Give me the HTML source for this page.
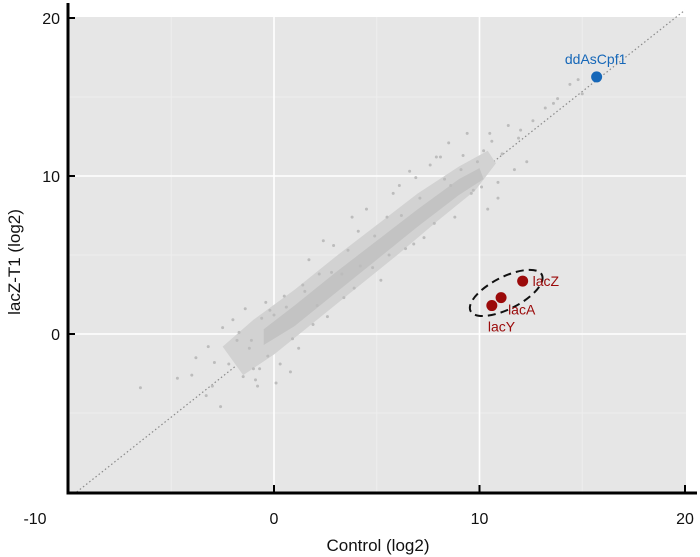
<!DOCTYPE html>
<html><head><meta charset="utf-8"><style>
html,body{margin:0;padding:0;background:#fff;}
svg{display:block;font-family:"Liberation Sans",Arial,sans-serif;}
</style></head><body>
<svg id="chart" width="700" height="557" viewBox="0 0 700 557">
<g id="panel"></g>
<g id="cloud"></g>
<g id="points"></g>
<g id="highlight"></g>
<g id="axes"></g>
</svg>
<script>
const xTicks=[-10,0,10,20];
const yTicks=[-10,0,10,20];
const xTickLabels=["-10","0","10","20"];
const yTickLabels=["0","10","20"];
const bandOuter=[[-2.5,-0.8],[-1,0.9],[1,2.8],[3,4.9],[5,6.9],[7,8.9],[9,10.6],[10.4,11.6],[10.8,10.8],[9.8,9.1],[8,7.2],[6,5.0],[4,2.9],[2,0.8],[0,-1.3],[-1.5,-2.6]];
const bandInner=[[-0.5,0.3],[1,1.8],[3,3.9],[5,5.9],[7,7.9],[9,9.8],[10,10.5],[10.2,9.8],[9,8.8],[7,6.8],[5,4.7],[3,2.6],[1,0.5],[-0.5,-0.7]];
const scatterX=[-6.5,-4.7,-4,-3.3,-3,-2.6,-1.5,-0.9,-0.8,-0.7,0.8,-3.8,-3.2,-2.2,-1.8,-1.2,-0.3,0.3,1.2,-2.5,-2,-1.4,0,0.5,1.5,2.2,-1,-0.4,0.9,2.6,3.4,1.7,2.9,4.1,4.8,5.5,3.3,4.5,6.1,6.9,2.4,3.8,5.2,6.4,7.3,8.1,8.6,9.2,9.6,10.2,10.6,11.1,11.4,12,12.6,13.2,13.8,14.4,15,10.9,11.7,12.3,10.4,9.9,10.9,7.9,6.6,8.5,4.2,5.8,7.6,9.4,11.9,13.6,14.8,10.5,8.8,1.9,0.1,-0.6,-1.7,-0.2,1.4,2.8,3.6,4.9,6.2,7.1,8.3,9.1,-2.9,-1.1,0.6,2.1,3.9,5.6,6.8,7.8,9.7,10.1];
const scatterY=[-3.4,-2.8,-2.6,-3.9,-3.3,-4.6,-2.7,-2.9,-3.3,-2.2,-2.4,-1.5,-0.8,-1.9,-0.4,-0.9,-1.4,-1.9,-0.9,0.4,0.9,1.6,1.2,2.4,2.7,3.8,-2.2,2,-0.3,1.1,2.3,4.7,5.6,6.5,4.2,7.4,3.8,7.9,9.4,9.9,5.9,7.4,3.4,5.4,6.1,11.2,9.4,11.3,8.9,11.6,12.2,11.4,13.2,12.9,13.5,14.3,14.9,15.8,15.2,9.6,10.4,10.9,7.9,10.9,8.6,11.2,10.3,12.1,4.3,8.9,10.7,12.7,12.4,14.6,16.1,12.7,7.4,0.6,-3.1,1,0.1,1.5,3.1,3.9,5.3,6.2,7.5,8.6,9.8,10.4,-1.8,-0.4,1.7,1.8,2.9,5.0,5.7,7.0,9.1,9.3];
const hiNames=["lacZ","lacA","lacY"];
const hiX=[12.1,11.05,10.6];
const hiY=[3.35,2.3,1.8];
const markName=["ddAsCpf1"];
const markX=[15.7];
const markY=[16.27];

const NS="http://www.w3.org/2000/svg";
const L=68,R=686,T=17,B=493;
const sx=v=>274+(v)*20.55;
const sy=v=>334-(v)*15.8;
function el(t,a,p){const e=document.createElementNS(NS,t);for(const k in a)e.setAttribute(k,a[k]);document.getElementById(p).appendChild(e);return e;}

let e=el("rect",{x:L,y:T,width:R-L,height:B-T,fill:"#e6e6e6"},"panel");


[-5,5,15].forEach(v=>{let g=el("line",{x1:sx(v),x2:sx(v),y1:T,y2:B,stroke:"#eeeeee","stroke-width":1},"panel");

});
[-5,5,15].forEach(v=>{let g=el("line",{x1:L,x2:R,y1:sy(v),y2:sy(v),stroke:"#eeeeee","stroke-width":1},"panel");

});
[0,10].forEach(v=>{let g=el("line",{x1:sx(v),x2:sx(v),y1:T,y2:B,stroke:"#fff","stroke-width":1.6},"panel");

});
[0,10].forEach(v=>{let g=el("line",{x1:L,x2:R,y1:sy(v),y2:sy(v),stroke:"#fff","stroke-width":1.6},"panel");

});
e=el("line",{x1:sx(-9.6),y1:sy(-10),x2:sx(20),y2:sy(20.5),stroke:"#8a8a8a","stroke-width":1.2,"stroke-dasharray":"1.5 2.5"},"panel");



function poly(arr){return arr.map(p=>sx(p[0])+","+sy(p[1])).join(" ");}
e=el("polygon",{points:poly(bandOuter),fill:"#d2d2d2","stroke-linejoin":"round"},"cloud");


e=el("polygon",{points:poly(bandInner),fill:"#c3c3c3","stroke-linejoin":"round"},"cloud");


scatterX.forEach((x,i)=>{let c=el("circle",{cx:sx(x),cy:sy(scatterY[i]),r:1.5,fill:"#bcbcbc"},"points");

});

e=el("ellipse",{cx:sx(11.3),cy:sy(2.6),rx:40,ry:16,fill:"none",stroke:"#111","stroke-width":2,"stroke-dasharray":"8 5",transform:`rotate(-27 ${sx(11.3)} ${sy(2.6)})`},"highlight");


const lblOff=[[10,5],[7,17],[-4,26]];
hiNames.forEach((n,i)=>{let c=el("circle",{cx:sx(hiX[i]),cy:sy(hiY[i]),r:5.5,fill:"#9b0a0a"},"highlight");


let t=el("text",{x:sx(hiX[i])+lblOff[i][0],y:sy(hiY[i])+lblOff[i][1],fill:"#9b0a0a","font-size":14},"highlight");t.textContent=n;

});
markName.forEach((n,i)=>{let c=el("circle",{cx:sx(markX[i]),cy:sy(markY[i]),r:5.5,fill:"#1667b8"},"highlight");


let t=el("text",{x:sx(markX[i])-1,y:sy(markY[i])-13,fill:"#1667b8","font-size":14,"text-anchor":"middle"},"highlight");t.textContent=n;

});

e=el("line",{x1:L,y1:3,x2:L,y2:B+1.5,stroke:"#000","stroke-width":3},"axes");


e=el("line",{x1:L-1.5,y1:B,x2:697,y2:B,stroke:"#000","stroke-width":3},"axes");


xTicks.forEach((v,i)=>{if(v>-10){let k=el("line",{x1:sx(v),x2:sx(v),y1:B,y2:B-8,stroke:"#000","stroke-width":2},"axes");

}
let t=el("text",{x:v===-10?35:sx(v),y:524,"font-size":16,"text-anchor":"middle",fill:"#111"},"axes");t.textContent=xTickLabels[i];

});
yTicks.slice(1).forEach((v,i)=>{let k=el("line",{x1:L,x2:L+7,y1:sy(v),y2:sy(v),stroke:"#000","stroke-width":2},"axes");


let t=el("text",{x:L-8,y:sy(v)+6,"font-size":16,"text-anchor":"end",fill:"#111"},"axes");t.textContent=yTickLabels[i];

});
e=el("text",{x:378,y:551,"font-size":17,"text-anchor":"middle",fill:"#111"},"axes");e.textContent="Control (log2)";


e=el("text",{x:0,y:0,"font-size":17,"text-anchor":"middle",fill:"#111",transform:"translate(20 262) rotate(-90)"},"axes");e.textContent="lacZ-T1 (log2)";


</script>
</body></html>
